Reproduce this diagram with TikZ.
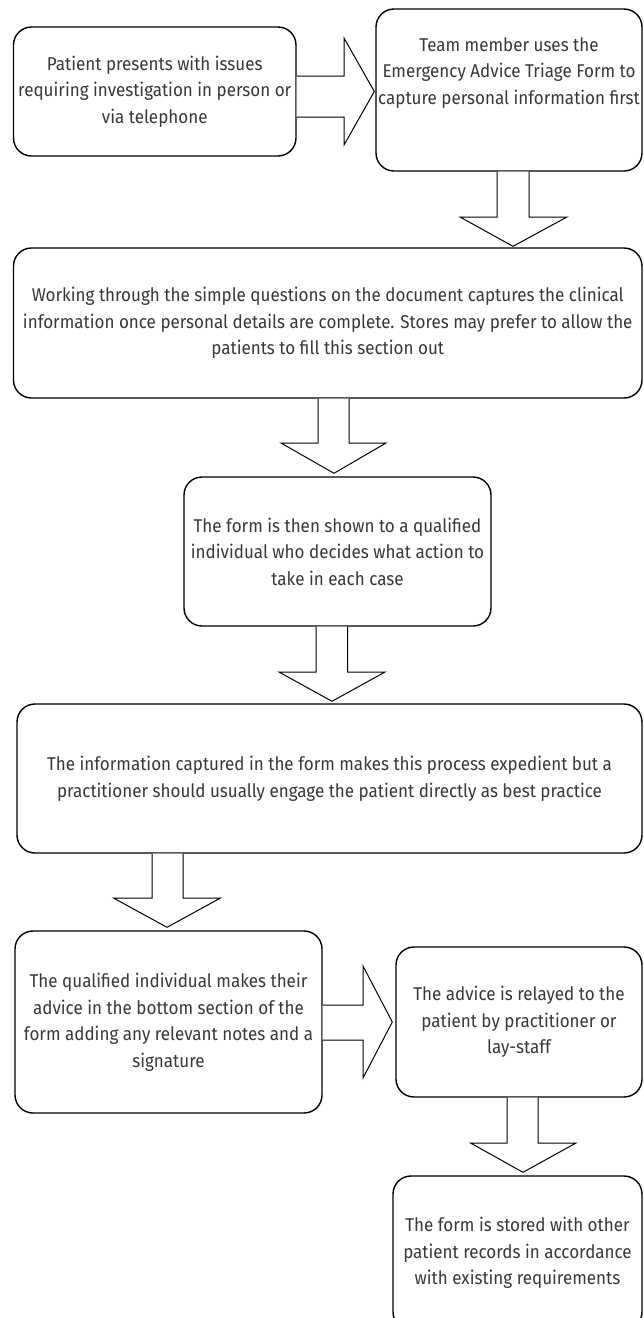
\documentclass[tikz,border=0pt]{standalone}
\usepackage{fontspec}
\setmainfont{Fira Sans}[FakeStretch=0.92]
\usetikzlibrary{calc}
\tikzset{
  box/.style={draw=black, line width=1.4pt, rounded corners=18pt, fill=white, align=center,
    inner sep=0pt, font=\fontsize{18.5}{26.5}\selectfont, text=black!78},
  txt/.style={align=center, inner sep=0pt, font=\fontsize{18.5}{26.5}\selectfont, text=black!78},
  blk/.style={draw=black, line width=1pt, fill=white, line join=miter}
}
\begin{document}
\begin{tikzpicture}[x=1pt,y=-1pt]
\useasboundingbox (0,0) rectangle (643,1318);
\clip (0,0) rectangle (643,1318);
% boxes
\node[box, minimum width=282.5, minimum height=129] (b1) at (154.75,91.5)
  {Patient presents with issues\\requiring investigation in person or\\via telephone};
\node[box, minimum width=266, minimum height=162] (b2) at (509,90) {};
\node[txt] (t2) at (509,73) {Team member uses the\\Emergency Advice Triage Form to\\capture personal information first};
\node[box, minimum width=628.5, minimum height=150] (b3) at (327.75,323)
  {Working through the simple questions on the document captures the clinical\\information once personal details are complete. Stores may prefer to allow the\\patients to fill this section out};
\node[box, minimum width=307, minimum height=149] (b4) at (337.5,551.5)
  {The form is then shown to a qualified\\individual who decides what action to\\take in each case};
\node[box, minimum width=625, minimum height=149] (b5) at (329.5,778.5)
  {The information captured in the form makes this process expedient but a\\practitioner should usually engage the patient directly as best practice};
\node[box, minimum width=307, minimum height=182] (b6) at (168.5,1022)
  {The qualified individual makes their\\advice in the bottom section of the\\form adding any relevant notes and a\\signature};
\node[box, minimum width=246, minimum height=150] (b7) at (519,1022)
  {The advice is relayed to the\\patient by practitioner or\\lay-staff};
\node[box, minimum width=249, minimum height=154] (b8) at (517.5,1253)
  {The form is stored with other\\patient records in accordance\\with existing requirements};
% block arrows
\draw[blk] (b1.east |- 0,76) -- (344,76) -- (344,38) -- ($(b2.west |- 0,91.5)+(-1,0)$)
  -- (344,145) -- (344,117) -- (b1.east |- 0,117);
\draw[blk] (b2.south -| 497,0) -- (497,217) -- (460,217) -- ($(b3.north -| 513,0)+(0,-1)$)
  -- (567,217) -- (529,217) -- (b2.south -| 529,0);
\draw[blk] (b3.south -| 318,0) -- (318,443) -- (281,443) -- ($(b4.north -| 334,0)+(0,-3)$)
  -- (386,443) -- (349,443) -- (b3.south -| 349,0);
\draw[blk] (b4.south -| 316,0) -- (316,672) -- (279,672) -- ($(b5.north -| 332,0)+(0,-2)$)
  -- (385,672) -- (347.5,672) -- (b4.south -| 347.5,0);
\draw[blk] (b5.south -| 152,0) -- (152,898) -- (113.5,898) -- ($(b6.north -| 167,0)+(0,-3)$)
  -- (220.5,898) -- (183,898) -- (b5.south -| 183,0);
\draw[blk] (b6.east |- 0,1005) -- (363,1005) -- (363,966) -- ($(b7.west |- 0,1022)+(-3,0)$)
  -- (363,1078) -- (363,1040) -- (b6.east |- 0,1040);
\draw[blk] (b7.south -| 507,0) -- (507,1143) -- (470.5,1143) -- ($(b8.north -| 523,0)+(0,-3)$)
  -- (576,1143) -- (538,1143) -- (b7.south -| 538,0);
\end{tikzpicture}
\end{document}
